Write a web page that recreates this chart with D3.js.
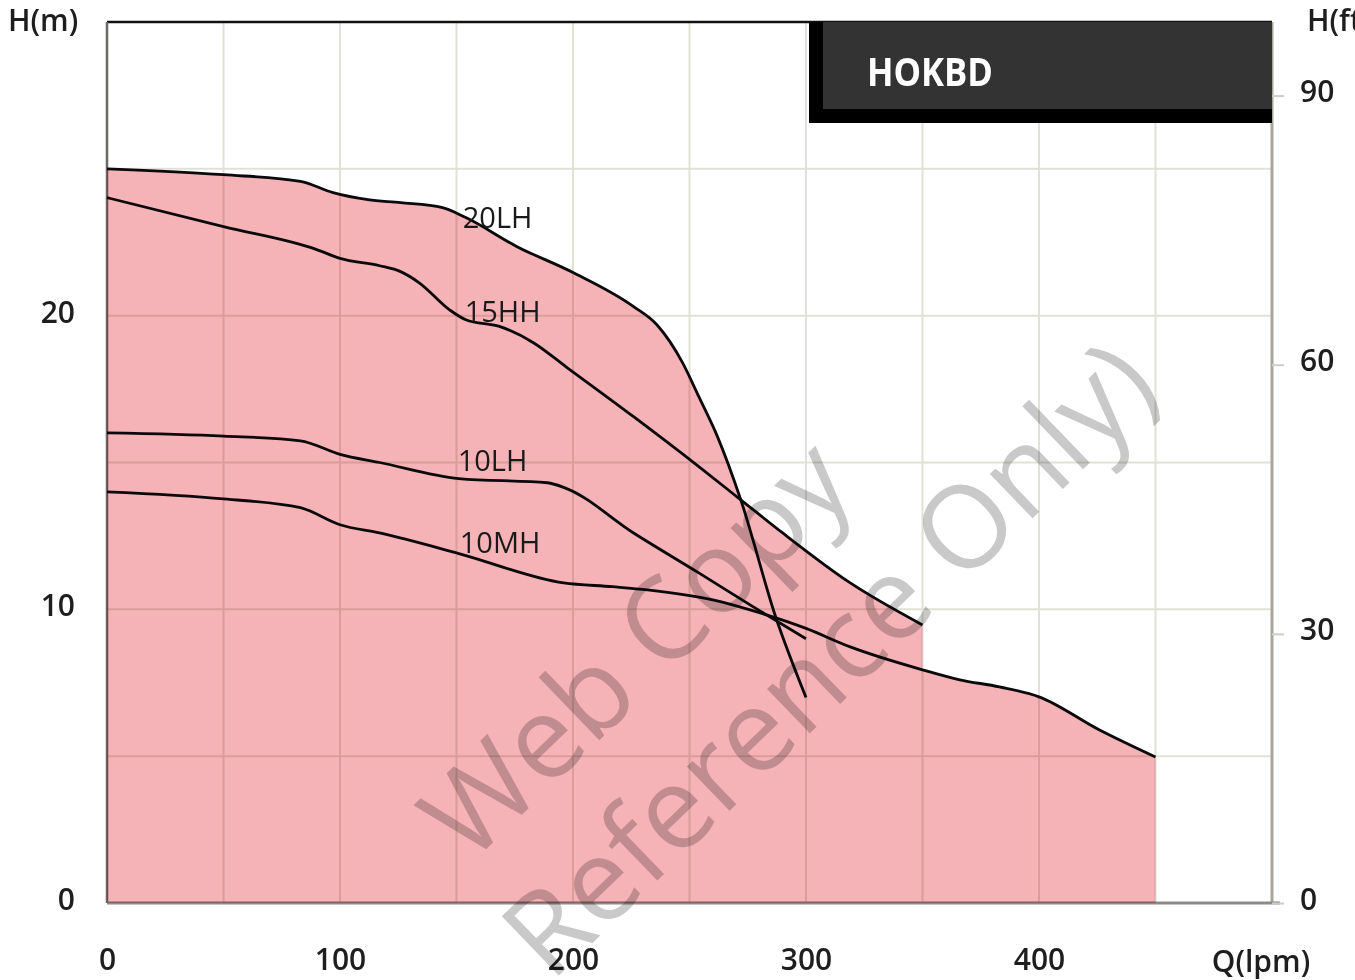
<!DOCTYPE html>
<html>
<head>
<meta charset="utf-8">
<script src="https://cdn.jsdelivr.net/npm/d3@7"></script>
<style>
  body { margin: 0; background: #fff; }
  svg { display: block; }
  text { font-family: "Open Sans", "Noto Sans", sans-serif; }
</style>
</head>
<body>
<svg id="chart" width="1355" height="980"></svg>
<script>
// pump curves, Q in lpm, H in m
var curveNames = ["20LH", "15HH", "10LH", "10MH"];

var q20LH = [0, 50, 83, 97, 112, 126, 144, 154, 176, 200, 226, 236, 247, 254, 262, 272, 287, 300];
var h20LH = [25.0, 24.8, 24.57, 24.19, 23.95, 23.85, 23.68, 23.34, 22.35, 21.47, 20.31, 19.69, 18.4, 17.24, 15.88, 13.73, 9.74, 7.0];

var q15HH = [0, 50, 90, 100, 117, 126, 134, 147, 154, 169, 183, 197, 226, 254, 272, 290, 319, 350];
var h15HH = [24.02, 23.03, 22.25, 21.95, 21.7, 21.5, 21.12, 20.2, 19.86, 19.62, 19.08, 18.26, 16.56, 14.86, 13.73, 12.6, 10.9, 9.47];

var q10LH = [0, 50, 83, 100, 117, 151, 189, 197, 226, 254, 276, 300];
var h10LH = [16.01, 15.9, 15.74, 15.28, 15.0, 14.45, 14.31, 14.12, 12.6, 11.24, 10.15, 9.0];

var q10MH = [0, 50, 83, 100, 117, 151, 196, 217, 232, 260, 276, 300, 319, 350, 366, 383, 400, 426, 450];
var h10MH = [14.0, 13.76, 13.46, 12.88, 12.6, 11.9, 10.9, 10.77, 10.66, 10.32, 9.98, 9.35, 8.72, 7.94, 7.6, 7.36, 7.02, 5.89, 4.97];

var xTicks = [0, 100, 200, 300, 400];
var yTicksM = [0, 10, 20];
var yTicksFt = [0, 30, 60, 90];

var svg = d3.select("#chart");

var pLeft = 107, pRight = 1272, pTop = 22, pBottom = 903;

var x = d3.scaleLinear().domain([0, 500]).range([pLeft, pRight]);
var y = d3.scaleLinear().domain([0, 30]).range([pBottom, pTop]);
var yFt = d3.scaleLinear().domain([0, 98.2]).range([pBottom, pTop]);

var series = [
    {name: "20LH", q: q20LH, h: h20LH},
    {name: "15HH", q: q15HH, h: h15HH},
    {name: "10LH", q: q10LH, h: h10LH},
    {name: "10MH", q: q10MH, h: h10MH}
].map(function(s) {
    s.pts = s.q.map(function(q, i) { return [q, s.h[i]]; });
    return s;
});

// grid
var grid = svg.append("g").attr("stroke", "#e2e1d7").attr("stroke-width", 2);
grid.selectAll(".gx").data(d3.range(50, 500, 50)).enter().append("line")
    .attr("x1", d => x(d)).attr("x2", d => x(d))
    .attr("y1", pTop).attr("y2", pBottom);
grid.selectAll(".gy").data(d3.range(5, 30, 5)).enter().append("line")
    .attr("x1", pLeft).attr("x2", pRight)
    .attr("y1", d => y(d)).attr("y2", d => y(d));

// frame
svg.append("line").attr("x1", pLeft).attr("x2", pRight).attr("y1", pTop).attr("y2", pTop)
    .attr("stroke", "#111").attr("stroke-width", 2.5);
svg.append("line").attr("x1", pLeft).attr("x2", pLeft).attr("y1", pTop).attr("y2", pBottom)
    .attr("stroke", "#6b6a66").attr("stroke-width", 2.5);
svg.append("line").attr("x1", pRight).attr("x2", pRight).attr("y1", pTop).attr("y2", pBottom)
    .attr("stroke", "#a8a59c").attr("stroke-width", 3);

// bottom axis
var xAxis = svg.append("g").attr("transform", "translate(0," + pBottom + ")")
    .call(d3.axisBottom(x).tickValues(xTicks).tickSize(0).tickPadding(46));
xAxis.select(".domain").attr("stroke", "#8d8b86").attr("stroke-width", 3).attr("d", "M" + pLeft + ",0H" + (pRight + 8));
xAxis.selectAll("text").attr("font-size", 30).attr("font-weight", 600).attr("fill", "#1e1e1e");

// left axis
var yAxis = svg.append("g").attr("transform", "translate(" + pLeft + ",0)")
    .call(d3.axisLeft(y).tickValues(yTicksM).tickSize(0).tickPadding(32));
yAxis.select(".domain").remove();
yAxis.selectAll("text").attr("font-size", 30).attr("font-weight", 600).attr("fill", "#1e1e1e").attr("dy", "0.22em");

// right axis (feet)
var yAxisR = svg.append("g").attr("transform", "translate(" + pRight + ",0)")
    .call(d3.axisRight(yFt).tickValues(yTicksFt).tickSize(12).tickPadding(16));
yAxisR.select(".domain").remove();
yAxisR.selectAll("line").attr("stroke", "#cfcdc4").attr("stroke-width", 2);
yAxisR.selectAll("text").attr("font-size", 30).attr("font-weight", 600).attr("fill", "#1e1e1e").attr("dy", "0.2em");

// filled envelope
var area = d3.area().curve(d3.curveMonotoneX)
    .x(d => x(d[0])).y0(pBottom).y1(d => y(d[1]));
var fill = svg.append("g").style("mix-blend-mode", "multiply");
fill.selectAll("path").data(series).enter().append("path")
    .attr("d", d => area(d.pts)).attr("fill", "#f5b2b7");

// curves
var line = d3.line().curve(d3.curveMonotoneX)
    .x(d => x(d[0])).y(d => y(d[1]));
svg.append("g").selectAll("path").data(series).enter().append("path")
    .attr("d", d => line(d.pts))
    .attr("fill", "none").attr("stroke", "#0a0a0a").attr("stroke-width", 2.8);

// curve labels
var labelPos = {"20LH": [152.7, 23.34], "15HH": [153.5, 20.14], "10LH": [150.5, 15.06], "10MH": [151.4, 12.27]};
svg.append("g").selectAll("text").data(curveNames).enter().append("text")
    .attr("x", d => x(labelPos[d][0])).attr("y", d => y(labelPos[d][1]))
    .attr("dy", "0.36em").attr("font-size", 29).attr("font-weight", 500).attr("fill", "#1a1a1a")
    .text(d => d);

// axis titles
svg.append("text").attr("x", 8).attr("y", 31).attr("font-size", 30).attr("font-weight", 600)
    .attr("fill", "#1e1e1e").text("H(m)");
svg.append("text").attr("x", 1307).attr("y", 31).attr("font-size", 30).attr("font-weight", 600)
    .attr("fill", "#1e1e1e").text("H(ft)");
svg.append("text").attr("x", 1261).attr("y", 972).attr("text-anchor", "middle").attr("font-size", 30)
    .attr("font-weight", 600).attr("fill", "#1e1e1e").text("Q(lpm)");

// title box
svg.append("rect").attr("x", 809).attr("y", pTop).attr("width", pRight - 809).attr("height", 101).attr("fill", "#000");
svg.append("rect").attr("x", 823).attr("y", pTop).attr("width", pRight - 823).attr("height", 87).attr("fill", "#333");
svg.append("text").attr("x", 867).attr("y", 86).attr("font-size", 40).attr("font-weight", 700)
    .attr("fill", "#fff").attr("textLength", 126).attr("lengthAdjust", "spacingAndGlyphs").text("HOKBD");

// watermark
var wm = svg.append("g").style("mix-blend-mode", "multiply").attr("fill", "#c9c9c9")
    .attr("font-size", 115).attr("text-anchor", "middle");
wm.append("text").attr("transform", "translate(635,648) rotate(-44)").attr("dy", "0.36em").text("Web Copy");
wm.append("text").attr("transform", "translate(828,658) rotate(-44)").attr("dy", "0.36em").text("Reference Only)");
</script>
</body>
</html>
